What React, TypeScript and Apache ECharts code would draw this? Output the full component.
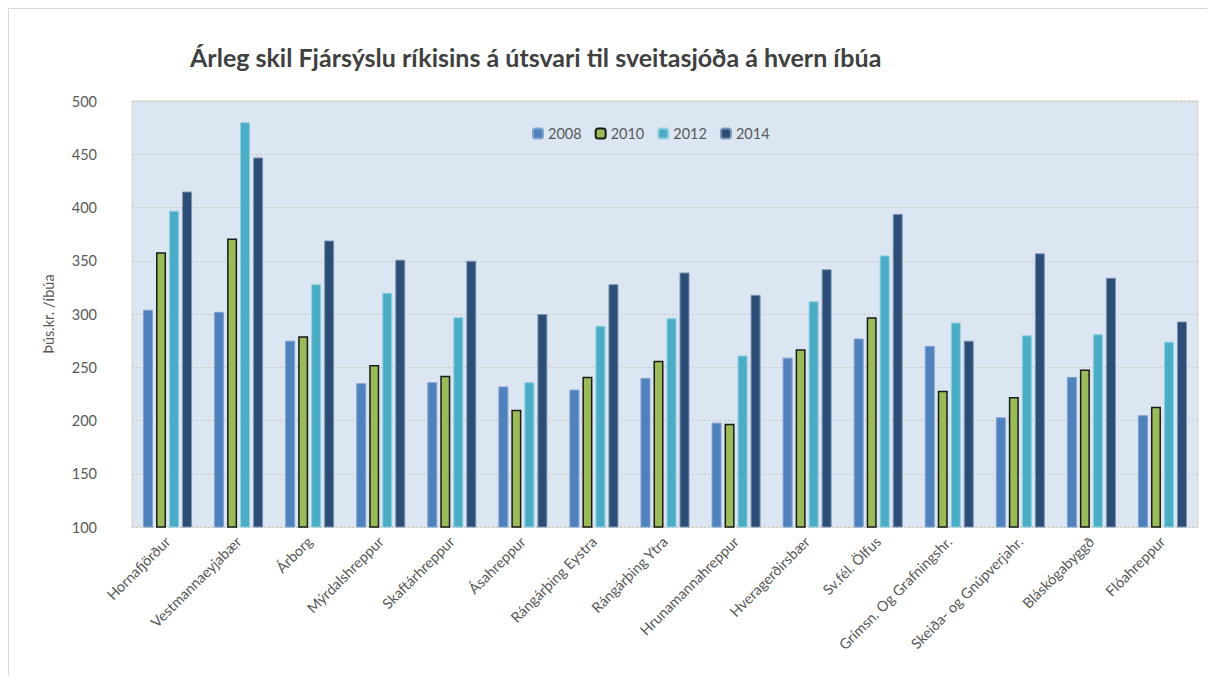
import React, { useEffect, useRef } from "react";
import * as echarts from "echarts";

const categories = [
  "Hornafjörður",
  "Vestmannaeyjabær",
  "Árborg",
  "Mýrdalshreppur",
  "Skaftárhreppur",
  "Ásahreppur",
  "Rángárþing Eystra",
  "Rángárþing Ytra",
  "Hrunamannahreppur",
  "Hveragerðirsbær",
  "Sv.fél. Ölfus",
  "Grímsn. Og Grafningshr.",
  "Skeiða- og Gnúpverjahr.",
  "Bláskógabyggð",
  "Flóahreppur",
];

const values2008 = [304, 302, 275, 235, 236, 232, 229, 240, 198, 259, 277, 270, 203, 241, 205];
const values2010 = [358, 371, 279, 252, 242, 210, 241, 256, 197, 267, 297, 228, 222, 248, 213];
const values2012 = [397, 480, 328, 320, 297, 236, 289, 296, 261, 312, 355, 292, 280, 281, 274];
const values2014 = [415, 447, 369, 351, 350, 300, 328, 339, 318, 342, 394, 275, 357, 334, 293];

const seriesNames = ["2008", "2010", "2012", "2014"];
const yTicks = { min: 100, max: 500, interval: 50 };

const titleText = "Árleg skil Fjársýslu ríkisins á útsvari til sveitasjóða á hvern íbúa";
const yAxisName = "Þús.kr. /íbúa";

const FONT = "Lato, 'Liberation Sans', sans-serif";

export default function App() {
  const ref = useRef<HTMLDivElement>(null);

  useEffect(() => {
    if (!ref.current) return;
    const chart = echarts.init(ref.current, null, { renderer: "svg" });
    const styles = [
      { color: "#4f81bd", borderColor: "#7fa3d0", borderWidth: 1 },
      { color: "#9bbb59", borderColor: "#1a1a1a", borderWidth: 1.5 },
      { color: "#4bacc6", borderColor: "#8fd0e0", borderWidth: 1 },
      { color: "#2c4d75", borderColor: "#7d95b5", borderWidth: 1 },
    ];
    const data = [values2008, values2010, values2012, values2014];
    chart.setOption({
      animation: false,
      textStyle: { fontFamily: FONT },
      graphic: [
        {
          type: "rect",
          shape: { x: 0.5, y: 0.5, width: 1240, height: 700 },
          style: { fill: "none", stroke: "#d9d9d9", lineWidth: 1 },
          silent: true,
        },
      ],
      title: {
        text: titleText,
        left: 177,
        top: 31,
        textStyle: { fontFamily: FONT, fontSize: 25, fontWeight: "bold", color: "#404040" },
      },
      legend: {
        data: seriesNames,
        left: 519,
        top: 113,
        itemWidth: 10,
        itemHeight: 10,
        itemGap: 13,
        textStyle: { fontFamily: FONT, fontSize: 14.5, color: "#595959" },
      },
      grid: {
        left: 124,
        top: 93,
        width: 1066,
        height: 426,
        show: true,
        backgroundColor: "#dce6f2",
        borderColor: "#d8d6c8",
        borderWidth: 1,
        containLabel: false,
      },
      xAxis: {
        type: "category",
        data: categories,
        axisLine: { show: false },
        axisTick: { show: false },
        axisLabel: {
          interval: 0,
          rotate: 45,
          margin: 12,
          fontSize: 14.5,
          color: "#595959",
          fontFamily: FONT,
        },
      },
      yAxis: {
        type: "value",
        min: yTicks.min,
        max: yTicks.max,
        interval: yTicks.interval,
        name: yAxisName,
        nameLocation: "middle",
        nameRotate: 90,
        nameGap: 76,
        nameTextStyle: { fontSize: 14.5, color: "#595959", fontFamily: FONT },
        axisLine: { show: false },
        axisTick: { show: false },
        axisLabel: { margin: 35, fontSize: 14.5, color: "#595959", fontFamily: FONT },
        splitLine: { lineStyle: { color: "#c9c9c3", type: [2, 2], width: 1 } },
      },
      series: seriesNames.map((name, i) => ({
        name,
        type: "bar",
        data: data[i],
        barGap: "30%",
        barCategoryGap: "31%",
        itemStyle: styles[i],
      })),
    });
    return () => chart.dispose();
  }, []);

  return <div ref={ref} style={{ width: 1199, height: 668 }} />;
}
